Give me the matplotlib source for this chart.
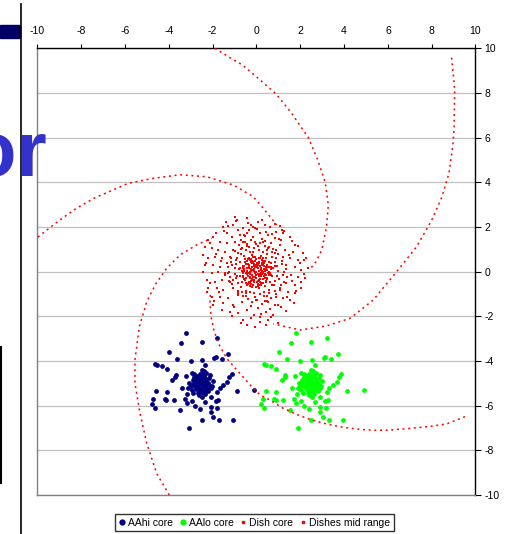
import matplotlib.pyplot as plt
from matplotlib.lines import Line2D
from matplotlib.patches import Rectangle

plt.rcParams['font.family'] = ['Liberation Sans', 'DejaVu Sans']
plt.rcParams['axes.unicode_minus'] = False

# --- AAhi core ---
aahi_x = [-3.20, -3.43, -2.50, -3.98, -3.62, -3.01, -2.47, -1.94, -1.85, -1.58, -1.30, -1.80,
          -4.64, -4.56, -4.32, -4.10, -3.68, -3.72, -3.84, -3.22, -2.96, -2.85, -2.34, -2.50,
          -4.57, -4.10, -4.71, -4.79, -4.65, -4.19, -4.13, -3.77, -3.39, -3.11, -3.16, -3.28,
          -3.19, -3.49, -2.96, -2.81, -2.58, -2.50, -3.10, -2.09, -2.09, -1.82, -1.97, -1.70,
          -1.06, -1.85, -1.74, -0.88, -1.24, -1.13, -1.33, -1.51, -1.67, -1.79, -2.09, -2.35,
          -2.47, -2.61, -2.88, -3.07, -0.10,
          -2.50, -2.60, -2.40, -2.70, -2.30, -2.55, -2.45, -2.80, -2.20, -2.60, -2.35, -2.75,
          -2.15, -2.90, -2.50, -2.10, -2.65, -2.30, -3.00, -2.00, -2.45, -2.55, -2.70, -2.35,
          -2.85, -2.20, -2.95, -2.05, -2.40, -2.60,
          -2.42, -2.58, -2.33, -2.67, -2.48, -2.77, -2.24, -2.52, -2.62, -2.38,
          -2.18, -2.83, -2.46, -2.71, -2.28, -2.56, -2.12, -2.91, -2.36, -2.64]
aahi_y = [-2.75, -3.18, -3.15, -3.61, -3.91, -3.98, -3.97, -3.86, -3.83, -3.91, -3.69, -2.98,
          -4.15, -4.19, -4.24, -4.37, -4.64, -4.70, -4.86, -4.67, -4.55, -4.58, -4.16, -4.40,
          -5.33, -5.39, -5.72, -5.91, -6.12, -5.72, -5.75, -5.76, -5.22, -5.22, -5.48, -5.72,
          -5.88, -6.19, -5.79, -6.01, -6.16, -6.64, -7.00, -6.07, -6.27, -6.10, -6.52, -6.66,
          -6.64, -5.77, -5.75, -5.33, -4.70, -4.58, -4.92, -5.07, -5.22, -5.40, -5.60, -5.82,
          -5.63, -5.52, -5.42, -5.00, -5.32,
          -4.90, -5.00, -5.10, -4.80, -4.80, -5.20, -4.70, -5.00, -5.00, -4.60, -5.30, -5.25,
          -4.75, -4.85, -5.40, -5.20, -5.45, -4.55, -5.10, -4.90, -5.05, -4.85, -5.10, -4.95,
          -4.70, -5.35, -5.30, -5.10, -4.45, -5.30,
          -5.02, -4.78, -5.12, -5.15, -4.62, -4.92, -4.98, -5.28, -4.88, -4.68,
          -5.08, -5.12, -5.38, -4.68, -5.22, -4.98, -4.62, -5.02, -5.48, -5.05]

# --- AAlo core ---
aalo_x = [1.80, 1.57, 2.50, 1.02, 1.38, 1.99, 2.53, 3.06, 3.15, 3.42, 3.70, 3.20,
          0.36, 0.44, 0.68, 0.90, 1.32, 1.28, 1.16, 1.78, 2.04, 2.15, 2.66, 2.50,
          0.43, 0.90, 0.29, 0.21, 0.35, 0.81, 0.87, 1.23, 1.61, 1.89, 1.84, 1.72,
          1.81, 1.51, 2.04, 2.19, 2.42, 2.50, 1.90, 2.91, 2.91, 3.18, 3.03, 3.30,
          3.94, 3.15, 3.26, 4.12, 3.76, 3.87, 3.67, 3.49, 3.33, 3.21, 2.91, 2.65,
          2.53, 2.39, 2.12, 1.93, 4.90,
          2.50, 2.40, 2.60, 2.30, 2.70, 2.45, 2.55, 2.20, 2.80, 2.40, 2.65, 2.25,
          2.85, 2.10, 2.50, 2.90, 2.35, 2.70, 2.00, 3.00, 2.55, 2.45, 2.30, 2.65,
          2.15, 2.80, 2.05, 2.95, 2.60, 2.40,
          2.58, 2.42, 2.67, 2.33, 2.52, 2.23, 2.76, 2.48, 2.38, 2.62,
          2.82, 2.17, 2.54, 2.29, 2.72, 2.44, 2.88, 2.09, 2.64, 2.36]
aalo_y = [-2.75, -3.18, -3.15, -3.61, -3.91, -3.98, -3.97, -3.86, -3.83, -3.91, -3.69, -2.98,
          -4.15, -4.19, -4.24, -4.37, -4.64, -4.70, -4.86, -4.67, -4.55, -4.58, -4.16, -4.40,
          -5.33, -5.39, -5.72, -5.91, -6.12, -5.72, -5.75, -5.76, -5.22, -5.22, -5.48, -5.72,
          -5.88, -6.19, -5.79, -6.01, -6.16, -6.64, -7.00, -6.07, -6.27, -6.10, -6.52, -6.66,
          -6.64, -5.77, -5.75, -5.33, -4.70, -4.58, -4.92, -5.07, -5.22, -5.40, -5.60, -5.82,
          -5.63, -5.52, -5.42, -5.00, -5.32,
          -4.90, -5.00, -5.10, -4.80, -4.80, -5.20, -4.70, -5.00, -5.00, -4.60, -5.30, -5.25,
          -4.75, -4.85, -5.40, -5.20, -5.45, -4.55, -5.10, -4.90, -5.05, -4.85, -5.10, -4.95,
          -4.70, -5.35, -5.30, -5.10, -4.45, -5.30,
          -5.02, -4.78, -5.12, -5.15, -4.62, -4.92, -4.98, -5.28, -4.88, -4.68,
          -5.08, -5.12, -5.38, -4.68, -5.22, -4.98, -4.62, -5.02, -5.48, -5.05]

# --- Dish core: outer scatter, middle ring, dense centre ---
dish_outer_x = [-0.91, -1.06, -0.45, -0.38, -0.23, 0.08, 0.23, 0.38, 0.61, 0.83, 1.06,
                -1.29, -1.52, -0.83, -0.61, -0.08, 0.45, 0.91, 1.21,
                -1.36, -1.14, -0.76, -0.45, -0.15, 0.15, 0.53, 0.83, 1.14, 1.52,
                -1.97, -2.20, -1.67, -1.36, -0.98, -0.53, 0.30, 0.68, 1.06, 1.74,
                -2.35, -2.05, -1.74, -1.44, -1.06, -0.68, 0.53, 0.91, 1.29, 1.67, 2.12,
                -2.42, -2.20, -1.89, -1.59, -1.21, 1.21, 1.52, 1.89, 2.27,
                -2.35, -1.97, -1.67, -1.36, 1.36, 1.74, 2.05, 2.35,
                -2.42, -2.05, -1.74, -1.44, 1.59, 1.89, 2.20,
                -2.27, -1.89, -1.59, -1.21, 1.36, 1.74, 2.05,
                -2.20, -1.82, -1.52, -1.06, 1.06, 1.44, 1.74,
                -2.05, -1.67, -1.29, -0.83, 0.91, 1.21, 1.52,
                -1.97, -1.52, -1.06, -0.68, 0.53, 0.83, 1.14,
                -1.21, -0.83, -0.45, 0.08, 0.45, 0.76,
                -0.61, -0.23, 0.15, 0.53,
                -0.45, -0.08, 0.45,
                -2.11, -1.83, -1.41, -0.97, -0.52, -0.16, 0.27, 0.71, 1.18, 1.63,
                1.97, 2.18, 2.05, 1.71, 1.33, 0.96, 0.62, 0.21, -0.27, -0.71,
                -1.13, -1.58, -1.94, -2.26, -1.62, -1.03, -0.33, 0.41, 1.02, 1.47,
                -1.48, -0.72, 0.04, 0.66, 1.38, 1.88, -1.87, -2.13, 1.61, 0.18,
                -0.58, -1.31, 1.79, -0.94, 0.97, -2.31, 2.16, -1.71, 1.24, -0.12]
dish_outer_y = [2.31, 2.09, 2.39, 2.16, 2.09, 2.24, 2.31, 2.09, 2.01, 2.13, 2.04,
                2.04, 1.99, 1.87, 1.94, 1.94, 1.79, 1.79, 1.72,
                1.72, 1.57, 1.64, 1.72, 1.57, 1.72, 1.64, 1.49, 1.42, 1.57,
                1.57, 1.42, 1.34, 1.27, 1.34, 1.34, 1.34, 1.27, 1.19, 1.19,
                1.12, 1.04, 0.97, 0.90, 0.97, 1.04, 1.04, 0.97, 0.97, 0.90, 0.82,
                0.75, 0.60, 0.67, 0.60, 0.67, 0.67, 0.60, 0.52, 0.60,
                0.30, 0.30, 0.22, 0.37, 0.30, 0.22, 0.07, 0.15,
                0.00, -0.07, 0.00, -0.15, -0.15, -0.22, -0.30,
                -0.37, -0.45, -0.37, -0.45, -0.52, -0.60, -0.45,
                -0.75, -0.75, -0.82, -0.75, -0.82, -0.90, -0.97,
                -1.12, -1.12, -1.19, -1.04, -1.12, -1.19, -1.27,
                -1.49, -1.42, -1.49, -1.34, -1.34, -1.49, -1.57,
                -1.79, -1.87, -1.72, -1.64, -1.79, -1.94,
                -2.16, -2.09, -2.01, -2.16,
                -2.39, -2.46, -2.39,
                1.28, 1.71, 2.21, 2.44, 1.58, 2.02, 1.46, 1.68, 1.88, 1.39,
                0.41, -0.11, -0.71, -1.42, -1.78, -2.28, -1.66, -1.88, -1.52, -2.31,
                -1.98, -1.73, -1.31, -0.93, 0.47, -1.58, 1.87, -1.31, 1.47, 0.73,
                1.82, 1.41, 1.91, -2.02, -1.13, 1.14, 0.81, -0.52, -0.43, -2.24,
                1.62, -0.07, -0.88, 2.28, -1.49, 0.38, 0.52, -0.91, 1.83, -1.96]
dish_ring_x = [-0.90, -0.70, -0.50, -0.30, -0.10, 0.10, 0.30, 0.50, 0.70, 0.85,
               0.95, 1.00, 0.95, 0.85, 0.70, 0.55, 0.35, 0.15, -0.10, -0.30,
               -0.50, -0.70, -0.85, -0.95, -1.00, -1.00, -0.95, -0.75, -0.55, -0.20,
               0.20, 0.45, 0.65, 0.75, 0.70, 0.60, 0.40, 0.10, -0.20, -0.45,
               -0.65, -0.75, -0.80, -0.60, -1.15, -1.10, 1.15, 1.10, 0.40, -0.45,
               0.50, -0.50, -1.25, 1.25, 0.00, 0.00, -0.85, 0.85, -0.85, 0.85,
               -1.32, -1.18, -0.97, -0.81, -0.63, -0.42, -0.27, -0.06, 0.18, 0.37,
               0.58, 0.77, 0.98, 1.17, 1.34, 1.41, 1.27, 1.08, 0.88, 0.66,
               0.47, 0.24, 0.03, -0.19, -0.41, -0.62, -0.86, -1.07, -1.26, -1.43,
               -1.12, -0.93, -0.71, -0.52, -0.33, -0.14, 0.09, 0.28, 0.49, 0.69,
               0.91, 1.03, 1.21, 0.79, 0.57, 0.33, 0.12, -0.09, -0.29, -0.48,
               -0.68, -0.89, -1.05, -1.22, -0.36, 0.42, 0.83, -0.74, 0.64, -0.57]
dish_ring_y = [0.60, 0.80, 0.95, 0.90, 1.05, 0.95, 0.90, 0.80, 0.65, 0.45,
               0.25, 0.05, -0.20, -0.40, -0.60, -0.80, -0.90, -1.00, -0.95, -0.90,
               -0.85, -0.70, -0.50, -0.30, -0.10, 0.15, 0.35, 0.45, 0.70, 0.75,
               0.70, 0.60, 0.40, 0.15, -0.20, -0.45, -0.65, -0.75, -0.70, -0.60,
               -0.45, -0.20, 0.10, 0.25, 0.45, -0.55, 0.50, -0.60, 1.15, 1.15,
               -1.10, -1.10, 0.00, 0.00, 1.25, -1.25, 0.85, 0.85, -0.85, -0.85,
               0.22, 0.63, 0.92, 1.18, 1.31, 1.24, 1.42, 1.33, 1.28, 1.37,
               1.09, 1.02, 0.77, 0.36, 0.12, -0.26, -0.48, -0.71, -1.02, -1.17,
               -1.32, -1.44, -1.29, -1.38, -1.21, -1.08, -0.96, -0.74, -0.41, -0.08,
               0.31, 0.52, 1.03, 0.58, 1.12, 0.87, 1.16, 0.62, 0.98, 0.88,
               0.63, -0.33, -0.17, -0.58, -0.97, -1.08, -0.61, -1.12, -0.63, -0.94,
               -0.92, -0.18, -0.38, -0.22, 0.62, -0.42, 0.27, 0.18, 0.21, -0.31]
dish_centre_x = [0.00, 0.10, -0.10, 0.05, -0.05, 0.20, -0.20, 0.20, -0.20, 0.30,
                 -0.30, 0.00, 0.00, 0.35, -0.35, 0.30, -0.30, 0.45, -0.45, 0.10,
                 -0.10, 0.45, -0.45, 0.15, -0.15, 0.25, -0.25, 0.40, -0.40, 0.55,
                 -0.55, 0.00, 0.05, 0.15, -0.15, 0.25, -0.25, 0.10, -0.10, 0.38,
                 -0.38, 0.12, -0.12, 0.50, -0.50, 0.30, -0.30, 0.50, -0.50, 0.20,
                 -0.20, 0.60, -0.60, 0.60, -0.60,
                 0.07, -0.16, 0.24, -0.28, 0.33, -0.07, 0.17, -0.22, 0.41, -0.36,
                 0.02, 0.13, -0.31, 0.27, -0.12, 0.36, -0.43, 0.19, -0.02, 0.08,
                 -0.24, 0.31, -0.17, 0.44, -0.08, 0.22, -0.39, 0.03, 0.14, -0.27,
                 0.48, -0.47, 0.09, -0.04, 0.29, -0.13, 0.35, -0.33, 0.16, -0.21,
                 0.52, 0.61, 0.47, 0.28, 0.08, -0.14, -0.33, -0.51, -0.63, -0.58,
                 -0.44, -0.26, -0.05, 0.17, 0.39, 0.56, 0.66, 0.43, 0.21, -0.02,
                 -0.23, -0.46, -0.67, -0.55, -0.37, 0.34, 0.58, 0.12, -0.18, -0.62,
                 0.68, 0.45, 0.26, -0.29, -0.52, -0.41, 0.03, 0.51, -0.09, 0.37]
dish_centre_y = [0.00, 0.05, 0.10, -0.10, -0.05, 0.15, 0.20, -0.20, -0.15, 0.00,
                 0.00, 0.30, -0.30, 0.25, 0.30, -0.35, -0.30, 0.10, -0.10, 0.45,
                 -0.45, -0.15, 0.15, -0.45, 0.45, 0.40, -0.40, -0.30, 0.35, 0.00,
                 0.05, 0.55, -0.55, 0.25, -0.25, -0.10, 0.10, -0.20, 0.25, 0.05,
                 -0.05, 0.38, -0.38, 0.30, -0.30, 0.50, -0.50, -0.35, 0.35, -0.50,
                 0.50, 0.20, -0.20, -0.10, 0.15,
                 0.17, 0.06, 0.03, -0.09, 0.14, -0.22, -0.31, 0.37, -0.11, 0.19,
                 0.41, -0.38, -0.23, 0.29, 0.33, -0.21, 0.02, 0.08, -0.14, -0.42,
                 0.43, -0.08, -0.36, 0.21, 0.21, -0.04, -0.19, 0.22, -0.09, 0.04,
                 0.08, -0.07, 0.31, -0.27, 0.36, 0.02, 0.11, 0.16, -0.13, -0.31,
                 0.21, -0.04, -0.27, -0.52, -0.63, -0.61, -0.48, -0.36, -0.08, 0.27,
                 0.47, 0.58, 0.66, 0.61, 0.46, 0.42, 0.13, -0.46, -0.58, -0.68,
                 -0.56, -0.49, 0.02, 0.14, 0.56, 0.38, -0.17, 0.62, 0.64, -0.25,
                 -0.14, -0.41, 0.53, 0.51, 0.44, -0.55, -0.48, -0.06, 0.47, -0.29]

# --- Dishes mid range: five spiral arms ---
arm1_x = [-1.90, -1.24, -0.65, -0.10, 0.89, 1.60, 2.37, 2.80, 3.14, 3.28, 3.20, 2.98, 2.72, 2.44]
arm1_y = [10.00, 9.60, 9.26, 8.81, 7.96, 7.10, 6.00, 5.00, 3.99, 2.99, 2.02, 0.97, 0.45, 0.11]
arm2_x = [8.91, 9.05, 9.02, 8.96, 8.79, 8.46, 8.00, 7.30, 6.40, 5.33, 4.27, 3.20, 1.99, 0.77]
arm2_y = [9.58, 8.14, 6.35, 5.60, 4.41, 3.33, 2.30, 1.10, 0.00, -1.27, -2.09, -2.43, -2.61, -2.34]
arm3_x = [9.52, 8.68, 7.92, 6.86, 5.94, 5.33, 4.73, 3.96, 3.20, 2.52, 1.91, 1.22, 0.62, 0.16,
          -0.22, -0.90, -1.36, -1.74, -1.95, -2.08, -2.12, -2.10]
arm3_y = [-6.49, -6.82, -6.93, -7.03, -7.10, -7.10, -7.06, -6.97, -6.82, -6.64, -6.42, -6.12,
          -5.75, -5.52, -5.15, -4.40, -3.88, -3.21, -2.60, -2.00, -1.40, -0.90]
arm4_x = [-3.98, -4.56, -5.01, -5.32, -5.55, -5.55, -5.35, -5.01, -4.60, -4.10, -3.49, -2.73, -2.05]
arm4_y = [-10.00, -9.03, -7.69, -6.34, -5.00, -3.95, -2.46, -1.34, -0.55, 0.15, 0.75, 1.20, 1.50]
arm5_x = [-9.98, -9.00, -8.20, -7.37, -5.85, -4.71, -3.49, -2.27, -1.06, -0.15, 0.30, 0.62, 0.92]
arm5_y = [1.55, 2.30, 2.85, 3.31, 3.96, 4.18, 4.34, 4.25, 3.88, 3.36, 2.85, 2.46, 2.09]

ticks = list(range(-10, 11, 2))

fig = plt.figure(figsize=(5.06, 5.34), dpi=100)
ax = fig.add_axes([0.0741, 0.073, 0.8656, 0.8365])

ax.scatter(aahi_x, aahi_y, s=12, color='#000080', linewidths=0, zorder=3)
ax.scatter(aalo_x, aalo_y, s=12, color='#00ff00', linewidths=0, zorder=3)
ax.scatter(dish_outer_x + dish_ring_x + dish_centre_x,
           dish_outer_y + dish_ring_y + dish_centre_y,
           s=3.8, marker='s', color='red', linewidths=0, zorder=4)
for xs, ys in [(arm1_x, arm1_y), (arm2_x, arm2_y), (arm3_x, arm3_y),
               (arm4_x, arm4_y), (arm5_x, arm5_y)]:
    ax.plot(xs, ys, color='red', lw=1.1, linestyle=(0, (1.3, 2.4)), zorder=4)

ax.set_xlim(-10, 10)
ax.set_ylim(-10, 10)
ax.set_xticks(ticks)
ax.set_yticks(ticks)
ax.xaxis.tick_top()
ax.yaxis.tick_right()
ax.tick_params(axis='x', direction='out', length=3, width=0.8, pad=6, labelsize=7.5)
ax.tick_params(axis='y', direction='out', length=4, width=0.8, pad=2.5, labelsize=7.5)
ax.grid(axis='y', color='#c0c0c0', lw=0.9)
ax.set_axisbelow(True)
ax.spines['top'].set_color('black')
ax.spines['right'].set_color('black')
ax.spines['left'].set_color('#808080')
ax.spines['bottom'].set_color('#808080')
for s in ax.spines.values():
    s.set_linewidth(1.0)

handles = [
    Line2D([], [], ls='none', marker='o', ms=3.5, color='#000080'),
    Line2D([], [], ls='none', marker='o', ms=3.5, color='#00ff00'),
    Line2D([], [], ls='none', marker='s', ms=1.6, color='red'),
    Line2D([], [], ls='none', marker='s', ms=1.6, color='red'),
]
labels = ['AAhi core', 'AAlo core', 'Dish core', 'Dishes mid range']
leg = fig.legend(handles, labels, loc='center', bbox_to_anchor=(0.503, 0.0215), ncol=4,
                 fontsize=7.5, frameon=True, fancybox=False, edgecolor='black',
                 handlelength=0.6, handletextpad=0.3, columnspacing=0.6, borderpad=0.35)
leg.get_frame().set_linewidth(1.0)

# bits of the surrounding slide visible at the left edge
fig.add_artist(Line2D([20.5 / 506] * 2, [0, 1 - 4 / 534], color='black', lw=1.2))
fig.add_artist(Line2D([1 / 506] * 2, [1 - 483 / 534, 1 - 347 / 534], color='black', lw=1.5))
fig.add_artist(Rectangle((0, 1 - 37.7 / 534), 20 / 506, 12.7 / 534, color='#000066'))
fig.text(47 / 506, 1 - 176 / 534, 'or', ha='right', va='baseline', fontsize=56,
         weight='bold', color='#3333cc', zorder=10)

fig.savefig('out.png', dpi=100)
